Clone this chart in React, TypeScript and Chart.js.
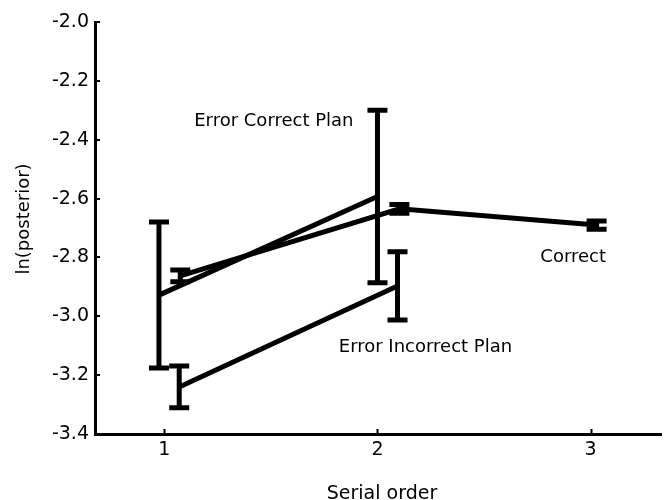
import React, { useEffect, useRef } from "react";
import { Chart, registerables } from "chart.js";

Chart.register(...registerables);

const xTickValues = [1, 2, 3];
const yTickStep = 0.2;

const correctX = [1.075, 2.103, 3.028];
const correctY = [-2.863, -2.635, -2.69];
const correctErr = [0.02, 0.015, 0.014];

const errCorrectPlanX = [0.975, 2.0];
const errCorrectPlanY = [-2.928, -2.593];
const errCorrectPlanErr = [0.248, 0.293];

const errIncorrectPlanX = [1.07, 2.094];
const errIncorrectPlanY = [-3.24, -2.897];
const errIncorrectPlanErr = [0.071, 0.116];

const labelTexts = ["Error Correct Plan", "Correct", "Error Incorrect Plan"];
const labelX = [1.514, 2.918, 2.225];
const labelY = [-2.353, -2.8155, -3.121];

const FONT = "'DejaVu Sans', sans-serif";

const errors = [correctErr, errCorrectPlanErr, errIncorrectPlanErr];

const overlayPlugin = {
  id: "overlay",
  afterDatasetsDraw(chart: any) {
    const ctx = chart.ctx;
    const xs = chart.scales.x;
    const ys = chart.scales.y;
    ctx.save();
    ctx.strokeStyle = "#000";
    ctx.lineWidth = 5;
    ctx.lineCap = "butt";
    chart.data.datasets.forEach((ds: any, i: number) => {
      const errs = errors[i];
      ds.data.forEach((p: any, j: number) => {
        const px = xs.getPixelForValue(p.x);
        const top = ys.getPixelForValue(p.y + errs[j]);
        const bot = ys.getPixelForValue(p.y - errs[j]);
        ctx.beginPath();
        ctx.moveTo(px, top - 2.5);
        ctx.lineTo(px, bot + 2.5);
        ctx.moveTo(px - 10, top);
        ctx.lineTo(px + 10, top);
        ctx.moveTo(px - 10, bot);
        ctx.lineTo(px + 10, bot);
        ctx.stroke();
      });
    });
    ctx.fillStyle = "#000";
    ctx.font = `18px ${FONT}`;
    ctx.textAlign = "center";
    ctx.textBaseline = "alphabetic";
    labelTexts.forEach((t, i) => {
      ctx.fillText(t, xs.getPixelForValue(labelX[i]), ys.getPixelForValue(labelY[i]));
    });
    ctx.restore();
  },
  afterDraw(chart: any) {
    const ctx = chart.ctx;
    const xs = chart.scales.x;
    const ys = chart.scales.y;
    const area = chart.chartArea;
    ctx.save();
    ctx.strokeStyle = "#000";
    ctx.lineWidth = 2;
    xs.ticks.forEach((t: any) => {
      const px = Math.round(xs.getPixelForValue(t.value)) + 0.5;
      ctx.beginPath();
      ctx.moveTo(px, area.bottom);
      ctx.lineTo(px, area.bottom - 5);
      ctx.stroke();
    });
    ys.ticks.forEach((t: any) => {
      const py = Math.round(ys.getPixelForValue(t.value));
      ctx.beginPath();
      ctx.moveTo(area.left, py);
      ctx.lineTo(area.left + 5, py);
      ctx.stroke();
    });
    ctx.fillStyle = "#000";
    ctx.font = `19px ${FONT}`;
    ctx.textAlign = "center";
    ctx.textBaseline = "alphabetic";
    ctx.fillText("Serial order", 382, 499);
    ctx.translate(29, 219);
    ctx.rotate(-Math.PI / 2);
    ctx.font = `18px ${FONT}`;
    ctx.fillText("ln(posterior)", 0, 0);
    ctx.restore();
  },
};

export default function App() {
  const ref = useRef<HTMLCanvasElement>(null);
  useEffect(() => {
    if (!ref.current) return;
    const mk = (xs: number[], ys: number[]) => xs.map((x, i) => ({ x, y: ys[i] }));
    const lineStyle = {
      borderColor: "#000",
      backgroundColor: "#000",
      borderWidth: 5,
      pointRadius: 0,
      borderCapStyle: "butt" as const,
      tension: 0,
      fill: false,
    };
    const chart = new Chart(ref.current, {
      type: "line",
      data: {
        datasets: [
          { label: "Correct", data: mk(correctX, correctY), ...lineStyle },
          { label: "Error Correct Plan", data: mk(errCorrectPlanX, errCorrectPlanY), ...lineStyle },
          { label: "Error Incorrect Plan", data: mk(errIncorrectPlanX, errIncorrectPlanY), ...lineStyle },
        ],
      },
      options: {
        animation: false,
        responsive: false,
        devicePixelRatio: 1,
        layout: { padding: { top: 22, right: 4, left: 0, bottom: 0 } },
        plugins: { legend: { display: false }, tooltip: { enabled: false } },
        scales: {
          x: {
            type: "linear",
            min: 0.675,
            max: 3.33,
            afterBuildTicks: (s: any) => {
              s.ticks = xTickValues.map((v) => ({ value: v }));
            },
            afterFit: (s: any) => {
              s.height = 66;
            },
            grid: { display: false, drawTicks: false },
            border: { display: true, color: "#000", width: 3 },
            ticks: {
              color: "#000",
              font: { family: FONT, size: 19 },
              padding: 5,
              callback: (v: any) => String(v),
            },
          },
          y: {
            type: "linear",
            min: -3.4,
            max: -2.0,
            afterFit: (s: any) => {
              s.width = 95;
            },
            grid: { display: false, drawTicks: false },
            border: { display: true, color: "#000", width: 3 },
            ticks: {
              stepSize: yTickStep,
              color: "#000",
              font: { family: FONT, size: 19 },
              padding: 6,
              callback: (v: any) => Number(v).toFixed(1),
            },
          },
        },
      },
      plugins: [overlayPlugin],
    });
    return () => chart.destroy();
  }, []);
  return (
    <div style={{ position: "absolute", left: 0, top: 0, width: 665, height: 500, background: "#fff" }}>
      <canvas ref={ref} width={665} height={500} />
    </div>
  );
}
